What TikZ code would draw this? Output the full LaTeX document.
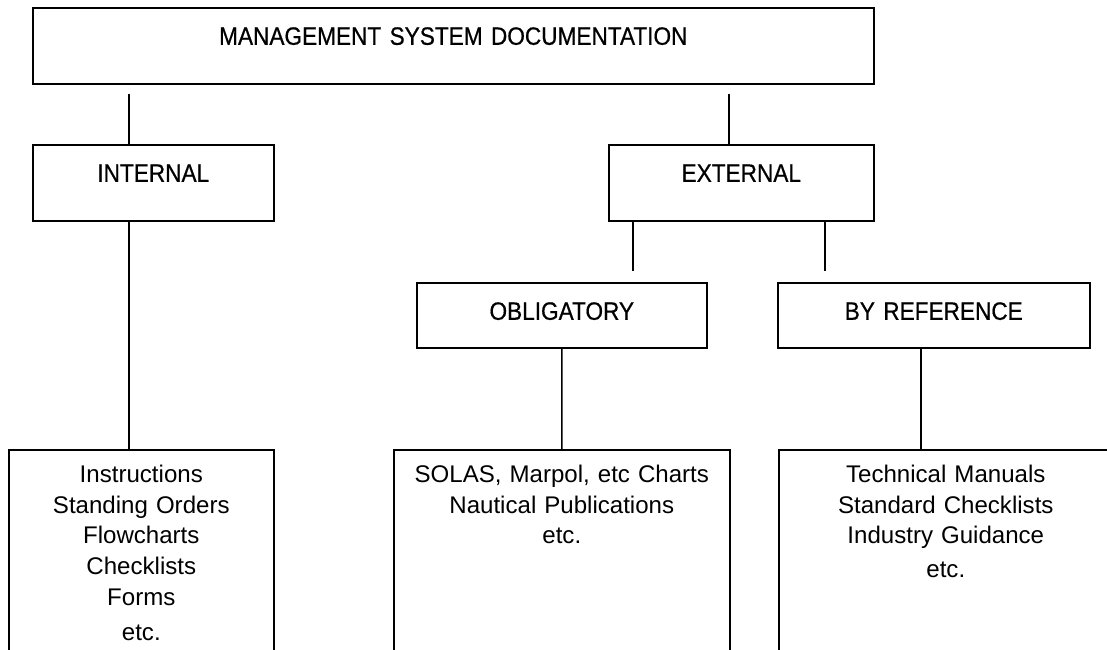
\documentclass[tikz,border=0pt]{standalone}
\usepackage{fontspec}
\setmainfont{Liberation Sans}
\newfontfamily\headface[FakeBold=0.6,FakeStretch=0.9]{Liberation Sans}
\usepackage{tikz}
\usetikzlibrary{positioning,calc}
\definecolor{boxline}{RGB}{0,0,0}
\newcommand{\headfont}{\headface\fontsize{14.3}{16}\selectfont}
\newcommand{\itemfont}{\fontsize{13.7}{17.4}\selectfont}
\tikzset{
  headbox/.style={draw=boxline, line width=0.9pt, inner sep=0pt, anchor=north west,
                  align=center, font=\headfont, text height=0.74cm},
  toprow/.style={headbox, text depth=0.78cm},
  subrow/.style={headbox, text depth=0.57cm},
  listbox/.style={draw=boxline, line width=0.9pt, inner sep=0pt, anchor=north west,
                  align=center, font=\itemfont, text height=0.66cm, text depth=4.6cm},
  link/.style={draw=boxline, line width=0.9pt}
}
\begin{document}
\begin{tikzpicture}
  \useasboundingbox (0,0) rectangle (22.14,-13.00);
  % headings
  \node[toprow, text width=16.82cm] (mgmt) at (0.64,-0.14) {MANAGEMENT SYSTEM DOCUMENTATION};
  \node[toprow, text width=4.82cm] (internal) at (0.64,-2.88) {INTERNAL};
  \node[toprow, text width=5.30cm] (external) at (12.16,-2.88) {EXTERNAL};
  \node[subrow, text width=5.80cm] (oblig) at (8.32,-5.64) {OBLIGATORY};
  \node[subrow, text width=6.24cm] (byref) at (15.54,-5.64) {BY REFERENCE};
  % document lists
  \node[listbox, text width=5.30cm] (intlist) at (0.16,-8.98)
    {Instructions\\Standing Orders\\Flowcharts\\Checklists\\Forms\\[0.1cm]etc.};
  \node[listbox, text width=6.72cm] (obllist) at (7.86,-8.98)
    {SOLAS, Marpol, etc Charts\\Nautical Publications\\etc.};
  \node[listbox, text width=6.68cm] (reflist) at (15.56,-8.98)
    {Technical Manuals\\Standard Checklists\\Industry Guidance\\[0.06cm]etc.};
  % connectors
  \coordinate (intx) at (2.58,0);
  \coordinate (extx) at (14.58,0);
  \coordinate (oblx) at (12.66,0);
  \coordinate (refx) at (16.50,0);
  \coordinate (refdown) at (18.42,0);
  \draw[link] ([yshift=-0.18cm]mgmt.south -| intx) -- (internal.north -| intx);
  \draw[link] ([yshift=-0.18cm]mgmt.south -| extx) -- (external.north -| extx);
  \draw[link] (external.south -| oblx) -- ([yshift=0.22cm]oblig.north -| oblx);
  \draw[link] (external.south -| refx) -- ([yshift=0.22cm]byref.north -| refx);
  \draw[link] (internal.south -| intx) -- (intlist.north -| intx);
  \draw[link] (oblig.south) -- (obllist.north);
  \draw[link] (byref.south -| refdown) -- (reflist.north -| refdown);
\end{tikzpicture}
\end{document}
